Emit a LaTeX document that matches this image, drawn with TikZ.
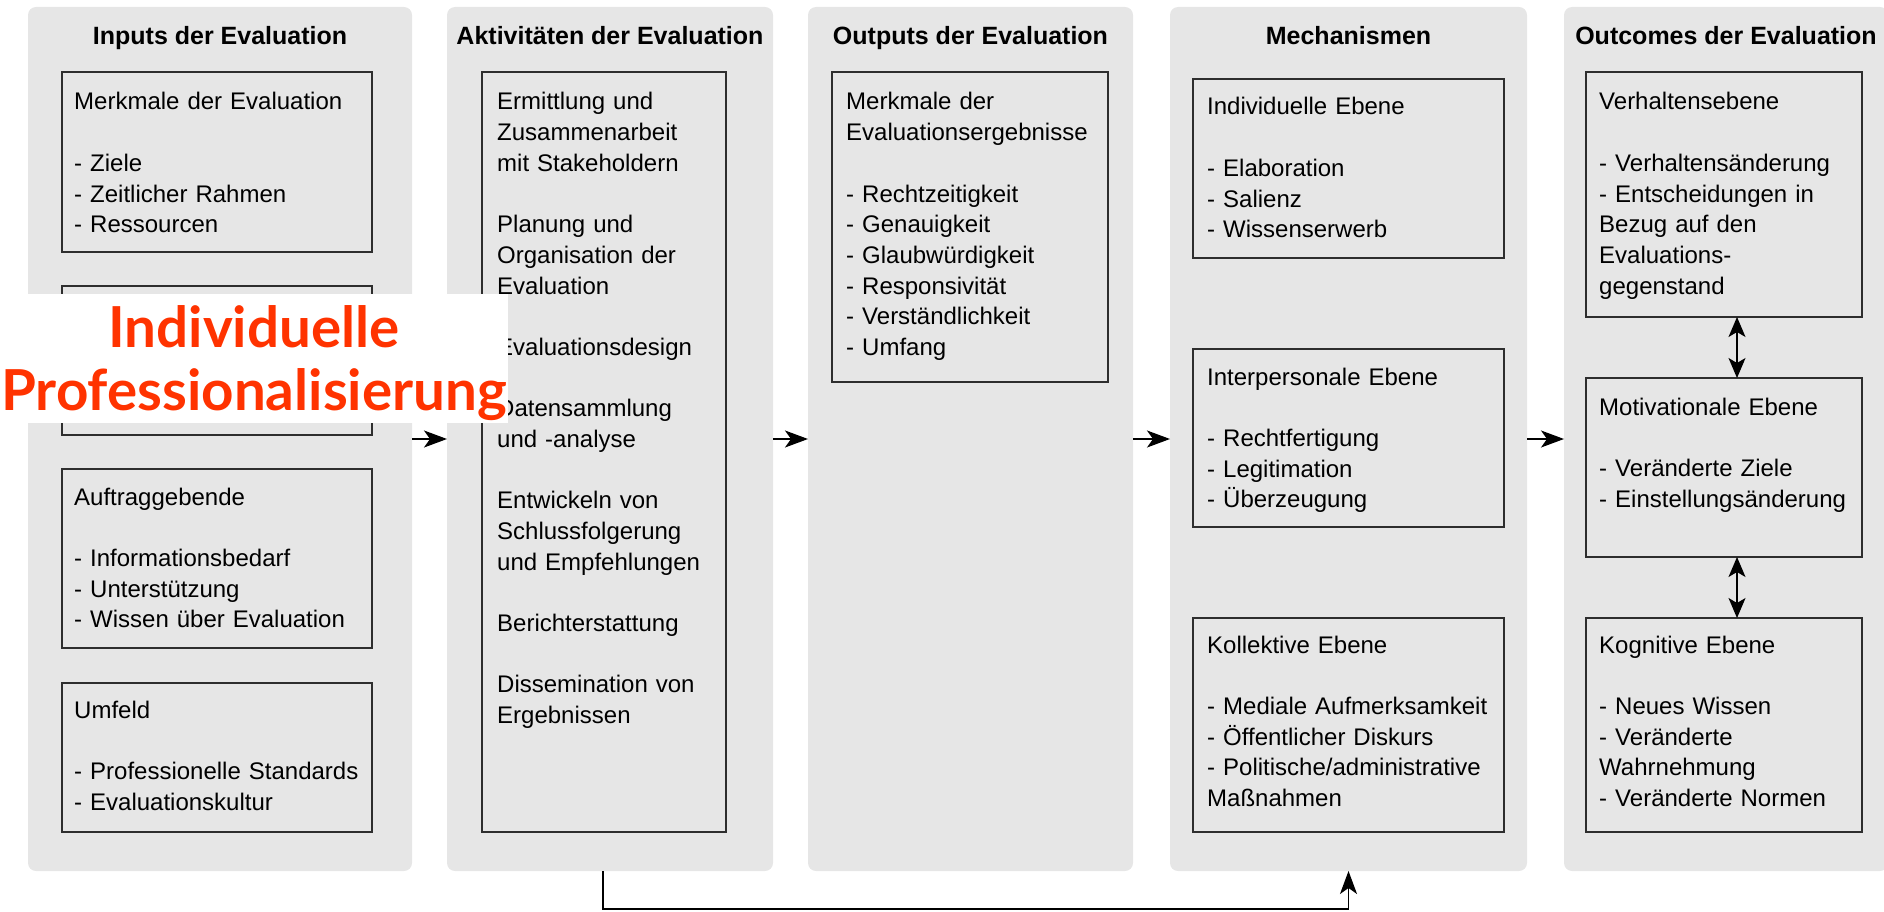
\documentclass[tikz,border=0pt]{standalone}
\usepackage{fontspec}
\setmainfont{Liberation Sans}
\newfontfamily\stampfont{Lato}
\usetikzlibrary{arrows.meta,positioning}

\definecolor{panelgray}{HTML}{E6E6E6}
\definecolor{boxline}{HTML}{2E2E2E}
\definecolor{stampred}{HTML}{FF3300}

\begin{document}
\begin{tikzpicture}
  [x=1pt,y=-1pt,
   panel/.style={rectangle,rounded corners=8pt,fill=panelgray,outer sep=0pt},
   box/.style={rectangle,draw=boxline,line width=1.6pt,outer sep=0pt},
   txt/.style={anchor=base west,text width=320pt,align=left,inner sep=0pt,
     font=\fontsize{24}{30.67}\selectfont},
   title/.style={anchor=base,inner sep=0pt,font=\fontsize{25}{30}\selectfont\bfseries},
   flow/.style={line width=1.4pt,-{Stealth[length=23pt,width=17pt,inset=6pt]}},
   twoway/.style={line width=1.4pt,
     {Stealth[length=20pt,width=17pt,inset=5pt]}-{Stealth[length=20pt,width=17pt,inset=5pt]}}]

  \clip (0,0) rectangle (1884,912);

  % columns
  \node[panel,minimum width=384pt,minimum height=864pt] (p1) at (220,439) {};
  \node[panel,minimum width=326pt,minimum height=864pt] (p2) at (610,439) {};
  \node[panel,minimum width=325pt,minimum height=864pt] (p3) at (970.5,439) {};
  \node[panel,minimum width=357pt,minimum height=864pt] (p4) at (1348.5,439) {};
  \node[panel,minimum width=324pt,minimum height=864pt] (p5) at (1726,439) {};

  \node[title] (t1) at ([yshift=-38pt]p1.north) {Inputs der Evaluation};
  \node[title] (t2) at ([yshift=-38pt]p2.north) {Aktivitäten der Evaluation};
  \node[title] (t3) at ([yshift=-38pt]p3.north) {Outputs der Evaluation};
  \node[title] (t4) at ([yshift=-38pt]p4.north) {Mechanismen};
  \node[title] (t5) at ([yshift=-38pt]p5.north) {Outcomes der Evaluation};

  % inputs
  \node[box,minimum width=310pt,minimum height=180pt] (b1) at (217,162) {};
  \node[box,minimum width=310pt,minimum height=149pt] (b2) at (217,360.5) {};
  \node[box,minimum width=310pt,minimum height=179pt] (b3) at (217,558.5) {};
  \node[box,minimum width=310pt,minimum height=149pt] (b4) at (217,757.5) {};

  \node[txt] at ([shift={(12pt,-38pt)}]b1.north west)
    {Merkmale der Evaluation\\[30.67pt]- Ziele\\- Zeitlicher Rahmen\\- Ressourcen};
  \node[txt] at ([shift={(12pt,-36pt)}]b3.north west)
    {Auftraggebende\\[30.67pt]- Informationsbedarf\\- Unterstützung\\- Wissen über Evaluation};
  \node[txt] at ([shift={(12pt,-35pt)}]b4.north west)
    {Umfeld\\[30.67pt]- Professionelle Standards\\- Evaluationskultur};

  % activities
  \node[box,minimum width=244pt,minimum height=760pt] (a1) at (604,452) {};
  \node[txt] at ([shift={(15pt,-38pt)}]a1.north west)
    {Ermittlung und\\Zusammenarbeit\\mit Stakeholdern\\[30.67pt]Planung und\\Organisation der\\Evaluation\\[30.67pt]Evaluationsdesign\\[30.67pt]Datensammlung\\und -analyse\\[30.67pt]Entwickeln von\\Schlussfolgerung\\und Empfehlungen\\[30.67pt]Berichterstattung\\[30.67pt]Dissemination von\\Ergebnissen};

  % outputs
  \node[box,minimum width=276pt,minimum height=310pt] (o1) at (970,227) {};
  \node[txt] at ([shift={(14pt,-38pt)}]o1.north west)
    {Merkmale der\\Evaluationsergebnisse\\[30.67pt]- Rechtzeitigkeit\\- Genauigkeit\\- Glaubwürdigkeit\\- Responsivität\\- Verständlichkeit\\- Umfang};

  % mechanisms
  \node[box,minimum width=311pt,minimum height=179pt] (m1) at (1348.5,168.5) {};
  \node[box,minimum width=311pt,minimum height=178pt] (m2) at (1348.5,438) {};
  \node[box,minimum width=311pt,minimum height=214pt] (m3) at (1348.5,725) {};
  \node[txt] at ([shift={(14pt,-36pt)}]m1.north west)
    {Individuelle Ebene\\[30.67pt]- Elaboration\\- Salienz\\- Wissenserwerb};
  \node[txt] at ([shift={(14pt,-36pt)}]m2.north west)
    {Interpersonale Ebene\\[30.67pt]- Rechtfertigung\\- Legitimation\\- Überzeugung};
  \node[txt] at ([shift={(14pt,-35pt)}]m3.north west)
    {Kollektive Ebene\\[30.67pt]- Mediale Aufmerksamkeit\\- Öffentlicher Diskurs\\- Politische/administrative\\Maßnahmen};

  % outcomes
  \node[box,minimum width=276pt,minimum height=245pt] (v1) at (1724,194.5) {};
  \node[box,minimum width=276pt,minimum height=179pt] (v2) at (1724,467.5) {};
  \node[box,minimum width=276pt,minimum height=214pt] (v3) at (1724,725) {};
  \node[txt] at ([shift={(13pt,-38pt)}]v1.north west)
    {Verhaltensebene\\[30.67pt]- Verhaltensänderung\\- Entscheidungen in\\Bezug auf den\\Evaluations-\\gegenstand};
  \node[txt] at ([shift={(13pt,-37pt)}]v2.north west)
    {Motivationale Ebene\\[30.67pt]- Veränderte Ziele\\- Einstellungsänderung};
  \node[txt] at ([shift={(13pt,-35pt)}]v3.north west)
    {Kognitive Ebene\\[30.67pt]- Neues Wissen\\- Veränderte\\Wahrnehmung\\- Veränderte Normen};

  % connectors
  \draw[flow] (p1.east) -- (p2.west);
  \draw[flow] (p2.east) -- (p3.west);
  \draw[flow] (p3.east) -- (p4.west);
  \draw[flow] (p4.east) -- (p5.west);

  \draw[twoway] ([xshift=13pt]v1.south) -- ([xshift=13pt]v2.north);
  \draw[twoway] ([xshift=13pt]v2.south) -- ([xshift=13pt]v3.north);

  \coordinate (fb) at (976,909);
  \draw[flow] ([xshift=-7pt]p2.south) |- (fb) -| (p4.south);

  % stamp
  \node[fill=white,minimum width=508pt,minimum height=129pt,outer sep=0pt] (stamp) at (254,358.5) {};
  \node[anchor=base,text width=508pt,align=center,inner sep=0pt,text=stampred,
    font=\stampfont\bfseries\fontsize{56.5}{63}\selectfont] (stamptext)
    at ([yshift=-53pt]stamp.north) {Individuelle\\Professionalisierung};
\end{tikzpicture}
\end{document}
